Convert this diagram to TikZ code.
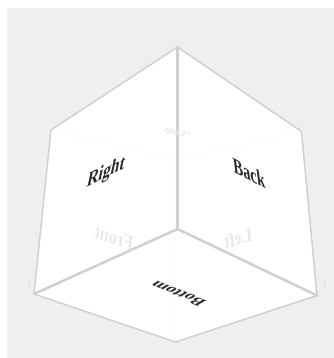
\documentclass[tikz,border=0pt]{standalone}
\usepackage{fontspec}
\setmainfont{Liberation Serif}
\usepackage{xcolor}
\definecolor{fondoCubo}{HTML}{EFEFEF}
\definecolor{aristaCubo}{HTML}{D0D0D0}
\definecolor{textoCubo}{HTML}{2A2A2A}
\definecolor{tenueCubo}{HTML}{E9E9E9}
\definecolor{ocultaCubo}{HTML}{FAFAFA}
\usetikzlibrary{calc}
\begin{document}
\begin{tikzpicture}[x=0.75pt,y=-0.75pt,font=\fontsize{12}{14}\selectfont\bfseries,
    arista/.style={aristaCubo,line width=1.1pt,line join=round},
    aristaInt/.style={aristaCubo,line width=1.9pt,line cap=round},
    oculta/.style={ocultaCubo,line width=0.6pt},
    cara/.style={textoCubo,transform shape,inner sep=0pt},
    caratenue/.style={tenueCubo,transform shape,inner sep=0pt}]

\useasboundingbox (0,0) rectangle (334,358);

% Fondo
\fill[fondoCubo] (7,8) rectangle (334,358);

% Vertices
\coordinate (arriba) at (177.5,47);
\coordinate (izqA) at (51,130);
\coordinate (derA) at (301.5,131.5);
\coordinate (centro) at (177.5,229);
\coordinate (izqB) at (34,294);
\coordinate (derB) at (317,295.5);
\coordinate (abajo) at (175.5,342);
\coordinate (oculto) at (175.5,160);

% Caras
\fill[white] (arriba) -- (izqA) -- (izqB) -- (abajo) -- (derB) -- (derA) -- cycle;

% Aristas ocultas
\draw[oculta] (oculto) -- (abajo);
\draw[oculta] (izqA) -- (oculto);
\draw[oculta] (derA) -- (oculto);
\draw[fondoCubo!92!black,line width=0.4pt] (29.5,281) -- (29.5,287);
\draw[fondoCubo!92!black,line width=0.4pt] (324,281) -- (324,287);

% Aristas
\draw[arista] (arriba) -- (izqA) -- (izqB) -- (abajo) -- (derB) -- (derA) -- cycle;
\draw[aristaInt] (arriba) -- (centro);
\draw[aristaInt] (centro) -- (izqB);
\draw[aristaInt] (centro) -- (derB);

% Textos
\node[caratenue,cm={-0.88,0.30,0.50,0.45,(0,0)}] (top) at (176,133) {Top};
\node[caratenue,cm={-0.98,0.33,0.13,1.26,(0,0)}] (front) at (114,238) {Front};
\node[caratenue,cm={-0.98,-0.33,-0.13,1.26,(0,0)}] (left) at (238,238) {Left};
\node[cara,cm={0.98,0.50,0.30,1.35,(0,0)}] (right) at (106,173) {Right};
\node[cara,cm={0.92,-0.47,-0.18,1.40,(0,0)}] (back) at (249,173) {Back};
\node[cara,cm={-1.00,0.41,-0.85,-0.50,(0,0)}] (bottom) at (178,293.5) {Bottom};

\end{tikzpicture}
\end{document}
